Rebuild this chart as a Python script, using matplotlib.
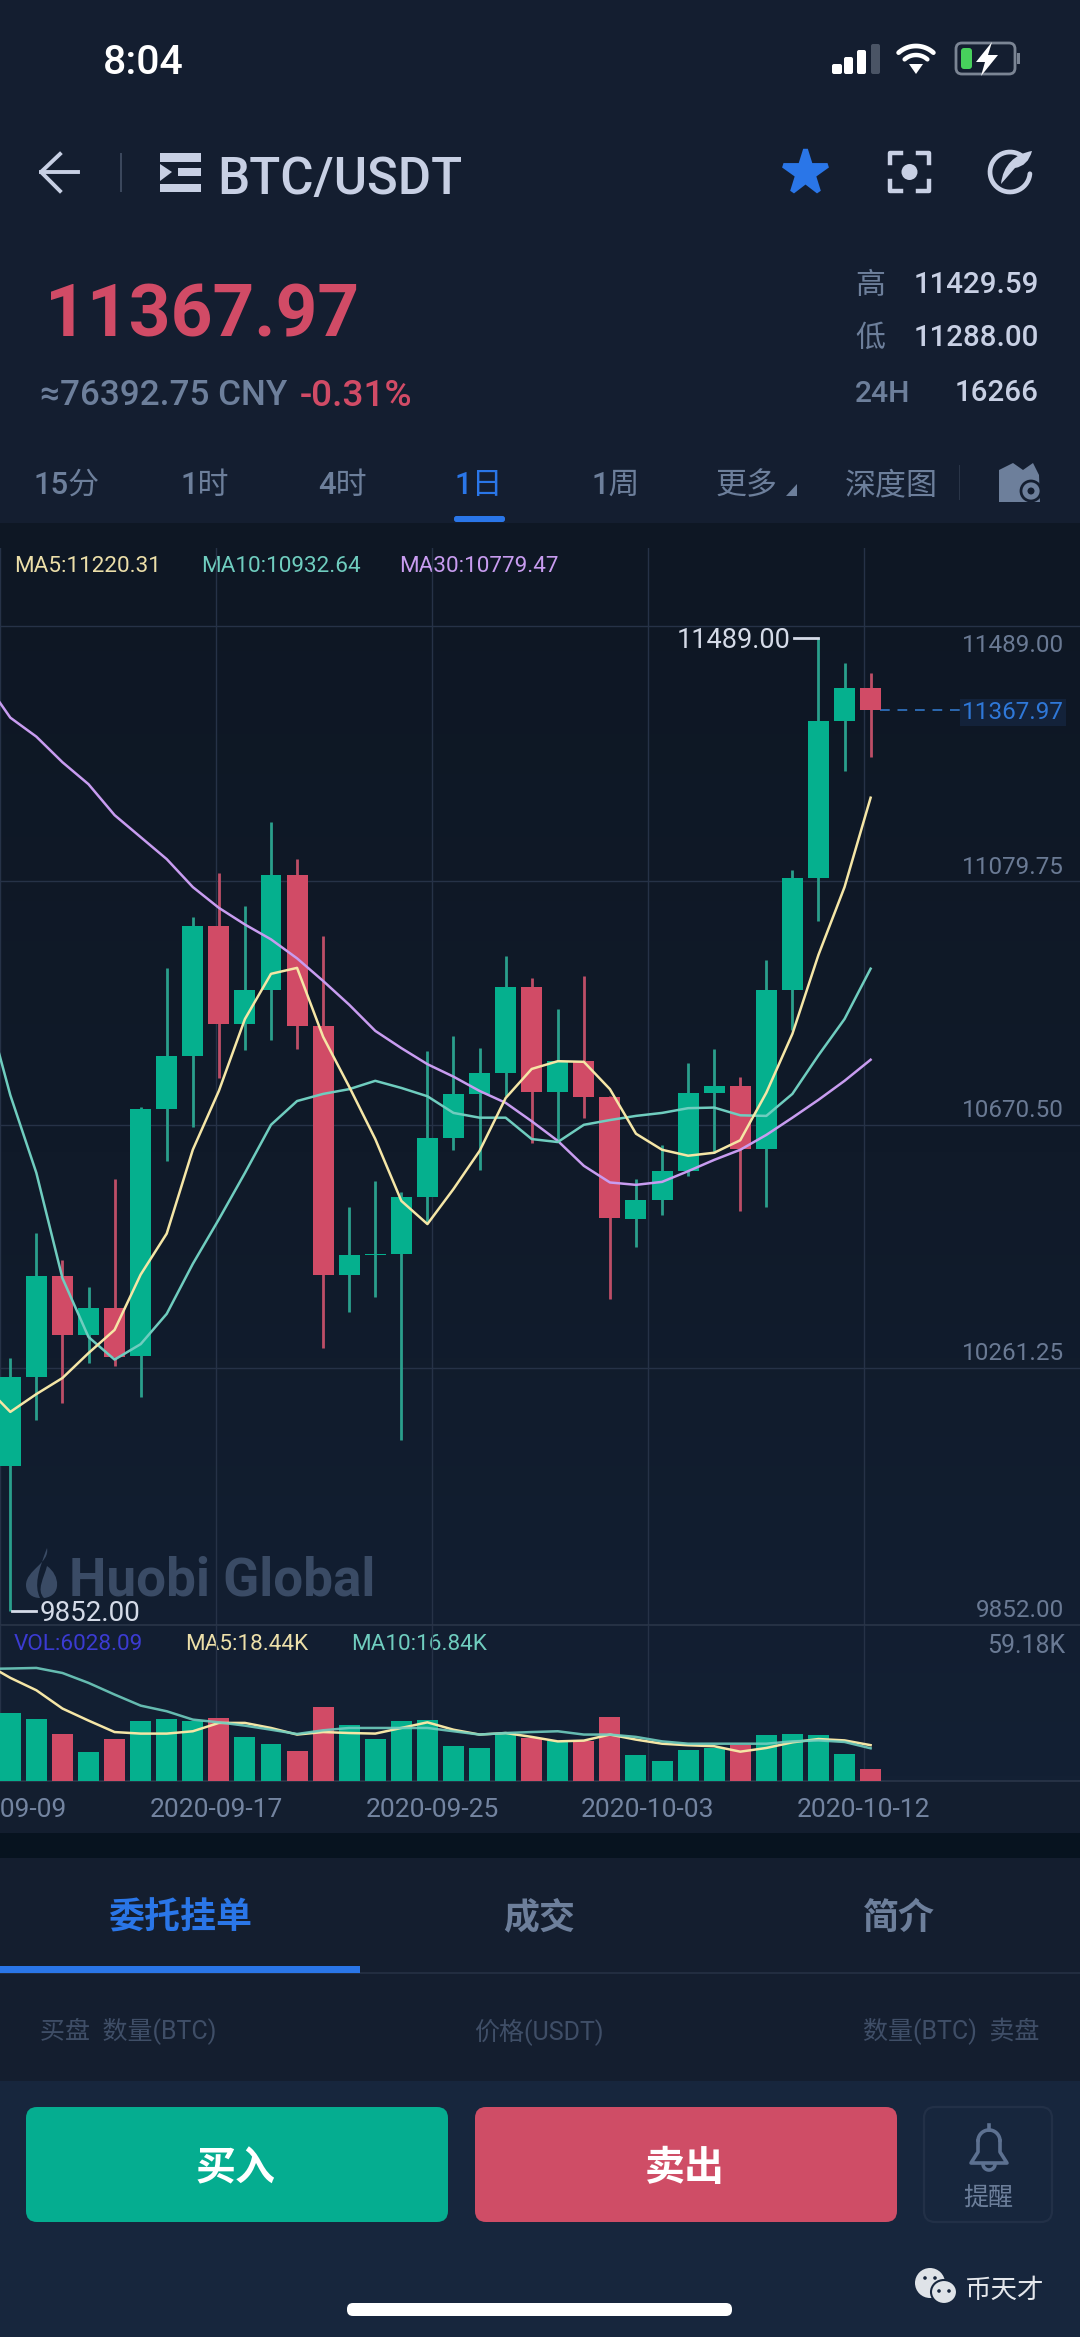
import numpy as np
import matplotlib
matplotlib.use('Agg')
import matplotlib.pyplot as plt
from matplotlib.colors import LinearSegmentedColormap
from matplotlib.patches import FancyBboxPatch, Rectangle, Polygon, Circle, Ellipse, PathPatch
from matplotlib.path import Path

plt.rcParams['font.family'] = ['Roboto', 'Noto Sans CJK SC', 'DejaVu Sans']

# K线数据
opens = [10096, 10246, 10416, 10316, 10361, 10281, 10697, 10786, 11005, 10839, 10897, 11090,
         10836, 10418, 10451, 10453, 10548, 10648, 10722, 10757, 10902, 10725, 10777, 10716,
         10512, 10544, 10592, 10724, 10735, 10630, 10896, 11085, 11350, 11405]
highs = [10278, 10488, 10442, 10397, 10579, 10700, 10933, 11019, 11094, 11038, 11180, 11118,
         10988, 10532, 10575, 10557, 10794, 10820, 10799, 10954, 10917, 10865, 10920, 10718,
         10579, 10636, 10774, 10797, 10751, 10948, 11099, 11489, 11447, 11429.59]
lows = [9852, 10173, 10202, 10269, 10264, 10212, 10609, 10666, 10749, 10796, 10813, 10798,
        10294, 10355, 10380, 10140, 10505, 10628, 10594, 10718, 10639, 10643, 10681, 10377,
        10464, 10518, 10584, 10623, 10525, 10532, 10830, 11013, 11265, 11288]
closes = [10246, 10416, 10316, 10361, 10279, 10697, 10786, 11005, 10839, 10897, 11090, 10836,
          10418, 10451, 10453, 10548, 10648, 10722, 10757, 10902, 10725, 10777, 10716, 10514,
          10544, 10592, 10724, 10735, 10630, 10896, 11085, 11350, 11405, 11367.97]

# 均线, 第一个点在屏幕左边外面
ma5 = [10232, 10187, 10217, 10244, 10286, 10325, 10418, 10487, 10628, 10727, 10848, 10924,
       10934, 10818, 10734, 10646, 10542, 10503, 10562, 10626, 10715, 10764, 10777, 10776,
       10730, 10655, 10628, 10618, 10623, 10644, 10724, 10823, 10956, 11070, 11220.31]
ma10 = [10883, 10720, 10589, 10412, 10313, 10275, 10301, 10352, 10436, 10511, 10589, 10670,
        10710, 10722, 10730, 10744, 10732, 10718, 10690, 10682, 10682, 10646, 10641, 10670,
        10678, 10685, 10690, 10698, 10699, 10686, 10685, 10722, 10787, 10848, 10932.64]
ma30 = [11418, 11355, 11323, 11280, 11243, 11191, 11154, 11117, 11070, 11035, 11007, 10982,
        10950, 10912, 10872, 10828, 10799, 10772, 10751, 10727, 10707, 10676, 10643, 10601,
        10573, 10569, 10574, 10592, 10611, 10628, 10653, 10682, 10712, 10744, 10779.47]

# 成交量(K)
vol = [35.0, 31.9, 24.4, 14.8, 21.5, 30.7, 32.1, 30.9, 32.3, 22.5, 19.2, 15.6, 38.1, 28.8, 21.5,
       30.7, 31.6, 17.9, 17.2, 24.7, 22.1, 20.4, 20.4, 32.8, 13.4, 10.1, 15.8, 17.0, 18.7, 23.5,
       24.4, 23.7, 14.1, 6.03]
vol_ma5 = [60.8, 53.1, 46.7, 37.3, 31.1, 25.2, 24.4, 24.4, 25.6, 29.9, 29.9, 27.3, 23.9, 25.2,
           24.7, 24.4, 27.3, 30.2, 26.4, 23.9, 24.7, 22.7, 20.4, 20.8, 23.9, 21.3, 19.2, 18.4,
           17.9, 15.1, 17.0, 19.9, 21.6, 20.9, 18.44]
vol_ma10 = [57.7, 57.9, 58.2, 55.6, 50.5, 44.5, 38.8, 35.9, 31.6, 30.2, 28.5, 26.4, 24.2, 26.1,
            27.3, 27.3, 27.3, 27.3, 25.6, 23.9, 24.7, 25.2, 25.6, 23.9, 23.9, 22.7, 20.4, 19.2,
            19.2, 19.2, 19.2, 20.4, 20.9, 20.1, 16.84]

date_labels = ['2020-09-09', '2020-09-17', '2020-09-25', '2020-10-03', '2020-10-12']
price_labels = [11489.00, 11079.75, 10670.50, 10261.25, 9852.00]
label_shift = [-14, 7.6, 7.5, 7.8, -6]
grid_prices = [11510, 11079.75, 10670.5, 10261.25]
last_price = 11367.97
vol_top = 59.18

GREEN = '#05b08e'
RED = '#d14b66'
GREEN_W = '#2a9f8c'
RED_W = '#bd4e67'
BLUE = '#2a76e8'
YELLOW = '#f5e6a6'
TEAL = '#6fcdbf'
PURPLE = '#c89cf0'
GRID = '#263247'
GREY = '#6d7f9b'
LIGHT = '#c8d0e4'
BG = '#141e30'

W, H = 1080, 2337
fig = plt.figure(figsize=(W / 100, H / 100), dpi=100, facecolor=BG)

# 底层界面, 用像素坐标
ui = fig.add_axes([0, 0, 1, 1], zorder=0)
ui.set_xlim(0, W)
ui.set_ylim(H, 0)
ui.axis('off')


def txt(x, y, s, px, color, ha='left', weight='normal'):
    ui.text(x, y + 0.355 * px, s, fontsize=px * 0.72, color=color, ha=ha, va='baseline', fontweight=weight)


def rect(x0, y0, x1, y1, color, **kw):
    ui.add_patch(Rectangle((x0, y0), x1 - x0, y1 - y0, facecolor=color, edgecolor='none', **kw))


def rrect(x0, y0, x1, y1, r, face, edge='none', lw=0):
    ui.add_patch(FancyBboxPatch((x0 + r, y0 + r), x1 - x0 - 2 * r, y1 - y0 - 2 * r,
                                boxstyle='round,pad=%f,rounding_size=%f' % (r, r),
                                facecolor=face, edgecolor=edge, linewidth=lw))


def arc(cx, cy, r, a0, a1, color, lw):
    th = np.radians(np.linspace(a0, a1, 40))
    ui.plot(cx + r * np.cos(th), cy - r * np.sin(th), color=color, lw=lw, solid_capstyle='round')


# 背景块
cmap = LinearSegmentedColormap.from_list('bg', ['#0e1724', '#101a29', '#132034'])
ui.imshow(np.linspace(0, 1, 256).reshape(-1, 1), extent=(0, W, 1781, 523), aspect='auto', cmap=cmap, zorder=0)
ui.set_xlim(0, W)
ui.set_ylim(H, 0)
rect(0, 1781, W, 1833, '#131e2f')
rect(0, 1833, W, 1858, '#07131f')
rect(0, 1858, W, 2081, '#141e2f')
rect(0, 2081, W, H, '#17263d')

# 状态栏
txt(103, 59, '8:04', 41, 'white', weight='medium')
for x0, x1, top, c in [(832, 842, 64, 'white'), (844, 853, 57, 'white'), (857, 866, 50, 'white'), (871, 880, 44, '#4a5465')]:
    rrect(x0, top, x1, 74, 2, c)
for r, lw in [(26, 3.4), (17, 3.2)]:
    arc(916, 72, r, 48, 132, 'white', lw)
ui.add_patch(Polygon([[909, 64], [923, 64], [916, 74]], facecolor='white', edgecolor='none'))
rrect(956, 43, 1015, 74, 6, 'none', '#7b8594', 2)
rrect(961, 48, 972, 69, 3, '#47d15c')
rect(1017, 53, 1020, 64, '#7b8594')
ui.add_patch(Polygon([[992, 42], [976, 62], [985, 62], [981, 76], [998, 55], [988, 55]], facecolor='white', edgecolor='none'))

# 标题栏
ui.plot([78, 41], [172, 172], color=LIGHT, lw=2.8)
ui.plot([60, 41, 60], [154, 172, 191], color=LIGHT, lw=2.8, solid_joinstyle='round')
rect(120, 153, 121.5, 192, '#3b475c')
rect(160, 153, 201, 162, LIGHT)
rect(160, 184, 201, 192, LIGHT)
rect(178, 168, 201, 176, LIGHT)
ui.add_patch(Polygon([[160, 164], [172, 172], [160, 181]], facecolor=LIGHT, edgecolor='none'))
txt(217, 176, 'BTC/USDT', 51, LIGHT, weight='medium')
ui.plot(805, 172, marker='*', ms=33, color=BLUE, mec=BLUE, mew=3.5, mfc=BLUE)
for xs, ys in [([890, 890, 901], [163, 153, 153]), ([918, 929, 929], [153, 153, 163]),
               ([890, 890, 901], [181, 191, 191]), ([918, 929, 929], [191, 191, 181])]:
    ui.plot(xs, ys, color=LIGHT, lw=3.2)
ui.add_patch(Circle((909.5, 172), 8, facecolor=LIGHT, edgecolor='none'))
arc(1010, 172, 20, 55, 355, LIGHT, 3.4)
ui.add_patch(PathPatch(Path([(1001, 184), (1003, 165), (1015, 154), (1032, 151), (1028, 166), (1015, 168), (1001, 184)],
                            [1, 4, 4, 4, 3, 3, 2]), facecolor=LIGHT, edgecolor='none'))

# 价格区
txt(45, 311, '11367.97', 73, RED, weight='bold')
txt(40, 393, '≈76392.75 CNY', 35, GREY, weight='medium')
txt(300, 393, '-0.31%', 37, RED, weight='medium')
txt(855, 283, '高', 30, GREY, weight='medium')
txt(855, 336, '低', 30, GREY, weight='medium')
txt(855, 391, '24H', 30, GREY, weight='medium')
txt(1039, 283, '11429.59', 29.5, LIGHT, ha='right', weight='medium')
txt(1039, 336, '11288.00', 29.5, LIGHT, ha='right', weight='medium')
txt(1039, 391, '16266', 29.5, LIGHT, ha='right', weight='medium')

# 周期选项
for x, s, c in [(67, '15分', GREY), (205, '1时', GREY), (342, '4时', GREY), (479, '1日', BLUE),
                (616, '1周', GREY), (747, '更多', GREY), (891, '深度图', GREY)]:
    txt(x, 483, s, 31, c, ha='center', weight='medium')
ui.add_patch(Polygon([[797, 484], [797, 496], [786, 496]], facecolor=GREY, edgecolor='none'))
rect(959, 465, 960, 500, '#2a3548')
ui.add_patch(Polygon([[999, 470], [1013, 463], [1023, 470], [1033, 463], [1039, 475], [1040, 502], [999, 502]],
                     facecolor=GREY, edgecolor='none'))
ui.add_patch(Circle((1031, 491), 10, facecolor=GREY, edgecolor=BG, lw=2))
ui.add_patch(Circle((1031, 491), 3.5, facecolor=BG, edgecolor='none'))
rrect(454, 516, 505, 522, 2.5, BLUE)

# 图例文字
txt(14, 564, 'MA5:11220.31', 22.5, '#ecdfa9')
txt(201, 564, 'MA10:10932.64', 22.5, TEAL)
txt(399, 564, 'MA30:10779.47', 22.5, PURPLE)
txt(14, 1642, 'VOL:6028.09', 22.5, '#3b3bd2')
txt(185, 1642, 'MA5:18.44K', 22.5, '#ecdfa9')
txt(351, 1642, 'MA10:16.84K', 22.5, TEAL)

# 水印
txt(69, 1577, 'Huobi Global', 53, '#3a4b65', weight='bold')
ui.add_patch(PathPatch(Path([(47, 1548), (50, 1563), (26, 1570), (26, 1585), (26, 1594), (33, 1598), (40, 1598),
                             (34, 1585), (38, 1572), (47, 1548)],
                            [1, 4, 4, 4, 4, 4, 4, 4, 4, 4]), facecolor='#3a4b65', edgecolor='none'))
ui.add_patch(PathPatch(Path([(47, 1566), (60, 1575), (62, 1596), (44, 1598), (36, 1590), (44, 1578), (47, 1566)],
                            [1, 4, 4, 4, 4, 4, 4]), facecolor='#3a4b65', edgecolor='none'))

# K线主图
x_left = (0 - 10.3) / 26.07
x_right = (W - 10.3) / 26.07
x_grid = [x_left + k * (x_right - x_left) / 5 for k in range(5)]
idx = np.arange(len(opens))
idx_ma = np.arange(-1, len(opens))
opens_a, closes_a = np.array(opens), np.array(closes)
up = closes_a >= opens_a

ax = fig.add_axes([0, 1 - 1625 / H, 1, (1625 - 548) / H], zorder=1, facecolor='none')
ax.set_xlim(x_left, x_right)
ax.set_ylim(9828.5, 11640.4)
ax.set_xticks(x_grid)
ax.set_yticks(grid_prices)
ax.tick_params(length=0, labelleft=False, labelbottom=False)
ax.grid(True, color=GRID, lw=1)
ax.set_axisbelow(True)
for name in ['top', 'left', 'right']:
    ax.spines[name].set_visible(False)
ax.spines['bottom'].set_color('#2a3649')
ax.spines['bottom'].set_linewidth(1.2)

ax.vlines(idx, lows, highs, colors=[GREEN_W if u else RED_W for u in up], lw=2, zorder=2)
ax.bar(idx, np.abs(closes_a - opens_a), bottom=np.minimum(opens_a, closes_a), width=0.805,
       color=[GREEN if u else RED for u in up], zorder=3)
ax.plot(idx_ma, ma30, color=PURPLE, lw=1.8, zorder=4)
ax.plot(idx_ma, ma10, color=TEAL, lw=1.8, zorder=5)
ax.plot(idx_ma, ma5, color=YELLOW, lw=1.8, zorder=6)

# 右侧价格刻度
for p, dy in zip(price_labels, label_shift):
    ax.annotate('%.2f' % p, xy=(1064 / W, p), xycoords=('axes fraction', 'data'), xytext=(0, dy * 0.72),
                textcoords='offset points', ha='right', va='baseline', fontsize=17.5, color='#6a7a94')

# 当前价
ax.plot([33.35, 36.7], [last_price, last_price], color='#2c69b0', lw=1.4, dashes=(5, 4), zorder=2)
ax.annotate('%.2f' % last_price, xy=(1064 / W, last_price), xycoords=('axes fraction', 'data'),
            xytext=(0, -9 * 0.72), textcoords='offset points', ha='right', va='baseline', fontsize=17.5,
            color='#2f78d8', bbox=dict(boxstyle='square,pad=0.1', facecolor='#13223a', edgecolor='none'))

# 最高最低价标注
hi = int(np.argmax(highs))
lo = int(np.argmin(lows))
ax.plot([hi - 0.93, hi - 0.02], [highs[hi], highs[hi]], color='#d5dbe8', lw=2, zorder=6)
ax.annotate('%.2f' % highs[hi], xy=(hi, highs[hi]), xytext=(-20, -7), textcoords='offset points',
            ha='right', va='baseline', fontsize=19.5, color='#d5dbe8')
ax.plot([lo + 0.06, lo + 1], [lows[lo], lows[lo]], color='#d5dbe8', lw=2, zorder=6)
ax.annotate('%.2f' % lows[lo], xy=(lo, lows[lo]), xytext=(21, -7), textcoords='offset points',
            ha='left', va='baseline', fontsize=20, color='#d5dbe8')

# 成交量
ax2 = fig.add_axes([0, 1 - 1781 / H, 1, (1781 - 1625) / H], zorder=1, facecolor='none')
ax2.set_xlim(x_left, x_right)
ax2.set_ylim(0, 80.3)
ax2.set_xticks(x_grid)
ax2.set_xticklabels(date_labels, fontsize=19, color='#7384a0')
ax2.set_yticks([])
ax2.tick_params(length=0, pad=12)
ax2.grid(True, axis='x', color=GRID, lw=1)
ax2.set_axisbelow(True)
for name in ['top', 'left', 'right']:
    ax2.spines[name].set_visible(False)
ax2.spines['bottom'].set_color('#2a3649')
ax2.spines['bottom'].set_linewidth(1.2)
ax2.bar(idx, vol, width=0.805, color=[GREEN if u else RED for u in up], zorder=3)
ax2.plot(idx_ma, vol_ma5, color=YELLOW, lw=1.8, zorder=4)
ax2.plot(idx_ma, vol_ma10, color=TEAL, lw=1.8, alpha=0.9, zorder=5)
ax2.annotate('%.2fK' % vol_top, xy=(1065 / W, vol_top), xycoords=('axes fraction', 'data'), xytext=(0, 9.5),
             textcoords='offset points', ha='right', va='baseline', fontsize=18, color='#6a7a94')

# 下方标签页
txt(180, 1916, '委托挂单', 36, BLUE, ha='center', weight='bold')
txt(539, 1916, '成交', 36, GREY, ha='center', weight='bold')
txt(899, 1916, '简介', 36, GREY, ha='center', weight='bold')
rect(0, 1972, W, 1974, '#222d40')
rect(0, 1966, 360, 1973, BLUE)
txt(40, 2030, '买盘  数量(BTC)', 25, '#3f4e67')
txt(539, 2030, '价格(USDT)', 25, '#3f4e67', ha='center')
txt(1039, 2030, '数量(BTC)  卖盘', 25, '#3f4e67', ha='right')

# 买卖按钮
rrect(26, 2107, 448, 2222, 11, '#05ad90')
rrect(475, 2107, 897, 2222, 11, '#cf4d66')
rrect(924, 2107, 1052, 2222, 11, 'none', '#223047', 1.6)
txt(236, 2166, '买入', 40, 'white', ha='center', weight='bold')
txt(685, 2166, '卖出', 40, 'white', ha='center', weight='bold')
bell = '#5d7191'
arc(989, 2141, 11, 0, 180, bell, 2.6)
ui.plot([978, 978, 971, 1007, 1000, 1000], [2141, 2152, 2163, 2163, 2152, 2141], color=bell, lw=2.6, solid_joinstyle='round')
ui.plot([989, 989], [2125, 2130], color=bell, lw=2.6)
arc(989, 2164, 6, 180, 360, bell, 2.6)
txt(988, 2197, '提醒', 25, GREY, ha='center')

# 公众号水印和底部横条
rrect(347, 2303, 732, 2316, 6, 'white')
ui.add_patch(Ellipse((930, 2283), 30, 30, facecolor='#dfe3e8', edgecolor='none'))
ui.add_patch(Ellipse((944, 2292), 26, 24, facecolor='#dfe3e8', edgecolor='#17263d', lw=1.5))
for cx, cy, c in [(925, 2278, '#17263d'), (935, 2278, '#17263d'), (939, 2291, '#17263d'), (949, 2291, '#17263d')]:
    ui.add_patch(Circle((cx, cy), 1.8, facecolor=c, edgecolor='none'))
txt(964, 2288, '币天才', 26.5, '#e4e7ec')

fig.savefig('out.png', dpi=100, facecolor=BG)
